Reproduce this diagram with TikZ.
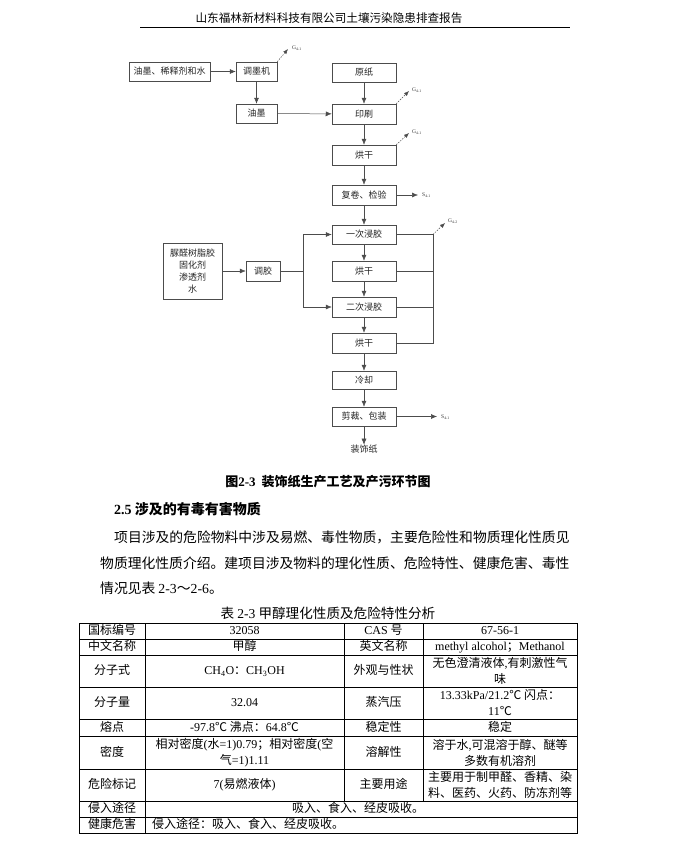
\documentclass[tikz,border=0pt]{standalone}
\usepackage{fontspec}
\setmainfont{Noto Sans CJK SC}
\newfontfamily\lat{Liberation Serif}
\usetikzlibrary{arrows.meta}
\begin{document}
\begin{tikzpicture}[x=1pt,y=-1pt,
  box/.style={draw=black!70, line width=0.5pt, minimum width=64pt, minimum height=20pt, inner sep=0pt, font=\fontsize{9}{11}\selectfont, text=black!85},
  flow/.style={draw=black!70, line width=0.5pt, -{Latex[length=6pt,width=5pt]}},
  plain/.style={draw=black!70, line width=0.5pt},
  emit/.style={draw=black!70, line width=0.5pt, dash pattern=on 1.5pt off 1.2pt, -{Latex[length=5pt,width=4pt]}},
  lbl/.style={font=\fontsize{5.5}{6}\selectfont\lat, inner sep=0pt, anchor=west, text=black!80},
  tline/.style={draw=black, line width=0.8pt},
  cell/.style={font=\fontsize{12}{16}\selectfont, inner sep=0pt, align=center},
  one/.style={cell, text height=9.5pt, text depth=2pt},
  para/.style={font=\fontsize{13.8}{16}\selectfont, inner sep=0pt, anchor=west}]
\fill[white] (0,0) rectangle (681,846);
\useasboundingbox (0,0) rectangle (681,846);
% header
\node[font=\fontsize{11.6}{13}\selectfont, inner sep=0pt] (hdr) at (329,18) {山东福林新材料科技有限公司土壤污染隐患排查报告};
\coordinate (hl) at (140,27);
\coordinate (hr) at (570,27);
\draw[tline] (hl) -- (hr);
% flowchart
\node[box, minimum width=81pt, minimum height=19pt] (in1) at (169.5,71.5) {油墨、稀释剂和水};
\node[box, minimum width=41pt, minimum height=19pt] (tm) at (256.5,71.5) {调墨机};
\node[box, minimum width=41pt, minimum height=19pt] (ym) at (256.5,113.5) {油墨};
\node[box, minimum height=19pt] (yz) at (364,72.5) {原纸};
\node[box] (ys) at (364,114) {印刷};
\node[box] (hg1) at (364,155) {烘干};
\node[box] (fj) at (364,195) {复卷、检验};
\node[box, minimum height=19pt] (jj1) at (364,234.5) {一次浸胶};
\node[box] (hg2) at (364,271) {烘干};
\node[box] (jj2) at (364,307) {二次浸胶};
\node[box] (hg3) at (364,343) {烘干};
\node[box, minimum height=18pt] (lq) at (364,380) {冷却};
\node[box, minimum height=19pt] (jc) at (364,416.5) {剪裁、包装};
\node[font=\fontsize{9}{11}\selectfont, inner sep=0pt, text=black!85] (zsz) at (364,449) {装饰纸};
\node[box, minimum width=59pt, minimum height=56pt, align=center, font=\fontsize{9}{12}\selectfont] (glue) at (192.5,271) {脲醛树脂胶\\固化剂\\渗透剂\\水};
\node[box, minimum width=34pt] (tj) at (263,271) {调胶};
\coordinate (g1) at (288,49);
\coordinate (g2) at (409,91);
\coordinate (g3) at (409,133);
\coordinate (g4) at (445,223);
\coordinate (s1) at (418,195);
\coordinate (s2) at (437,416.5);
\coordinate (sp) at (303,271);
\coordinate (rt) at (433,234.5);
\coordinate (rb) at (433,343);
\draw[flow] (in1) -- (tm);
\draw[flow] (tm) -- (ym);
\draw[flow] (ym) -- (ys);
\draw[flow] (yz) -- (ys);
\draw[flow] (ys) -- (hg1);
\draw[flow] (hg1) -- (fj);
\draw[flow] (fj) -- (jj1);
\draw[flow] (jj1) -- (hg2);
\draw[flow] (hg2) -- (jj2);
\draw[flow] (jj2) -- (hg3);
\draw[flow] (hg3) -- (lq);
\draw[flow] (lq) -- (jc);
\draw[flow] (jc) -- (zsz);
\draw[flow] (fj) -- (s1);
\draw[flow] (jc) -- (s2);
\draw[flow] (glue) -- (tj);
\draw[plain] (tj) -- (sp);
\draw[flow] (sp) |- (jj1.west);
\draw[flow] (sp) |- (jj2.west);
\draw[plain] (jj1.east) -- (rt) -- (rb) -- (hg3.east);
\draw[plain] (hg2.east) -- (hg2.east -| rt);
\draw[plain] (jj2.east) -- (jj2.east -| rt);
\draw[emit] (tm.north east) -- (g1);
\draw[emit] (ys.north east) -- (g2);
\draw[emit] (hg1.north east) -- (g3);
\draw[emit] (rt) -- (g4);
\node[lbl] (lg1) at (292,48) {G\textsubscript{4-1}};
\node[lbl] (lg2) at (412,90) {G\textsubscript{4-1}};
\node[lbl] (lg3) at (412,132) {G\textsubscript{4-1}};
\node[lbl] (lg4) at (448,221) {G\textsubscript{4-2}};
\node[lbl] (ls1) at (422,195.5) {S\textsubscript{4-1}};
\node[lbl] (ls2) at (441,417) {S\textsubscript{4-1}};
% caption and text
\node[font=\fontsize{13}{15}\selectfont\bfseries, inner sep=0pt] (cap) at (328,482) {图{\lat\bfseries 2-3}\hspace{6pt}装饰纸生产工艺及产污环节图};
\node[font=\fontsize{14}{16}\selectfont\bfseries, inner sep=0pt, anchor=west] (sec) at (114,509) {{\lat\bfseries 2.5} 涉及的有毒有害物质};
\node[para] (p1) at (114,537) {项目涉及的危险物料中涉及易燃、毒性物质，主要危险性和物质理化性质见};
\node[para] (p2) at (100,563) {物质理化性质介绍。建项目涉及物料的理化性质、危险特性、健康危害、毒性};
\node[para] (p3) at (100,588) {情况见表 {\lat 2-3}～{\lat 2-6}。};
% table
\node[font=\fontsize{13.6}{15}\selectfont, inner sep=0pt] (ttl) at (328,613) {表 {\lat 2-3} 甲醇理化性质及危险特性分析};
\draw[tline] (79,623) rectangle (577,833);
\foreach \yy in {639,655,687,719,736,769,801,817} \draw[tline] (79,\yy) -- (577,\yy);
\draw[tline] (145,623) -- (145,833);
\draw[tline] (344,623) -- (344,801);
\draw[tline] (423,623) -- (423,801);
% row 1
\node[one] (a1) at (112,631) {国标编号};
\node[one] (b1) at (244.5,631) {\lat 32058};
\node[one] (c1) at (383.5,631) {{\lat CAS} 号};
\node[one] (d1) at (500,631) {\lat 67-56-1};
% row 2
\node[one] (a2) at (112,647) {中文名称};
\node[one] (b2) at (244.5,647) {甲醇};
\node[one] (c2) at (383.5,647) {英文名称};
\node[one] (d2) at (500,647) {{\lat methyl alcohol}；{\lat Methanol}};
% row 3
\node[one] (a3) at (112,671) {分子式};
\node[one] (b3) at (244.5,671) {{\lat CH\textsubscript{4}O}：{\lat CH\textsubscript{3}OH}};
\node[one] (c3) at (383.5,671) {外观与性状};
\node[cell] (d3) at (500,671) {无色澄清液体{\lat ,}有刺激性气\\味};
% row 4
\node[one] (a4) at (112,703) {分子量};
\node[one] (b4) at (244.5,703) {\lat 32.04};
\node[one] (c4) at (383.5,703) {蒸汽压};
\node[cell] (d4) at (500,703) {{\lat 13.33kPa/21.2}℃ 闪点：\\{\lat 11}℃};
% row 5
\node[one] (a5) at (112,727.5) {熔点};
\node[one] (b5) at (244.5,727.5) {{\lat -97.8}℃ 沸点：{\lat 64.8}℃};
\node[one] (c5) at (383.5,727.5) {稳定性};
\node[one] (d5) at (500,727.5) {稳定};
% row 6
\node[one] (a6) at (112,752.5) {密度};
\node[cell] (b6) at (244.5,752.5) {相对密度{\lat (}水{\lat =1)0.79}；相对密度{\lat (}空\\气{\lat =1)1.11}};
\node[one] (c6) at (383.5,752.5) {溶解性};
\node[cell] (d6) at (500,752.5) {溶于水{\lat ,}可混溶于醇、醚等\\多数有机溶剂};
% row 7
\node[one] (a7) at (112,785) {危险标记};
\node[one] (b7) at (244.5,785) {{\lat 7(}易燃液体{\lat )}};
\node[one] (c7) at (383.5,785) {主要用途};
\node[cell] (d7) at (500,785) {主要用于制甲醛、香精、染\\料、医药、火药、防冻剂等};
% row 8
\node[one] (a8) at (112,809) {侵入途径};
\node[one] (b8) at (358,809) {吸入、食入、经皮吸收。};
% row 9
\node[one] (a9) at (112,825) {健康危害};
\node[one, anchor=west] (b9) at (152,825) {侵入途径：吸入、食入、经皮吸收。};
\end{tikzpicture}
\end{document}
